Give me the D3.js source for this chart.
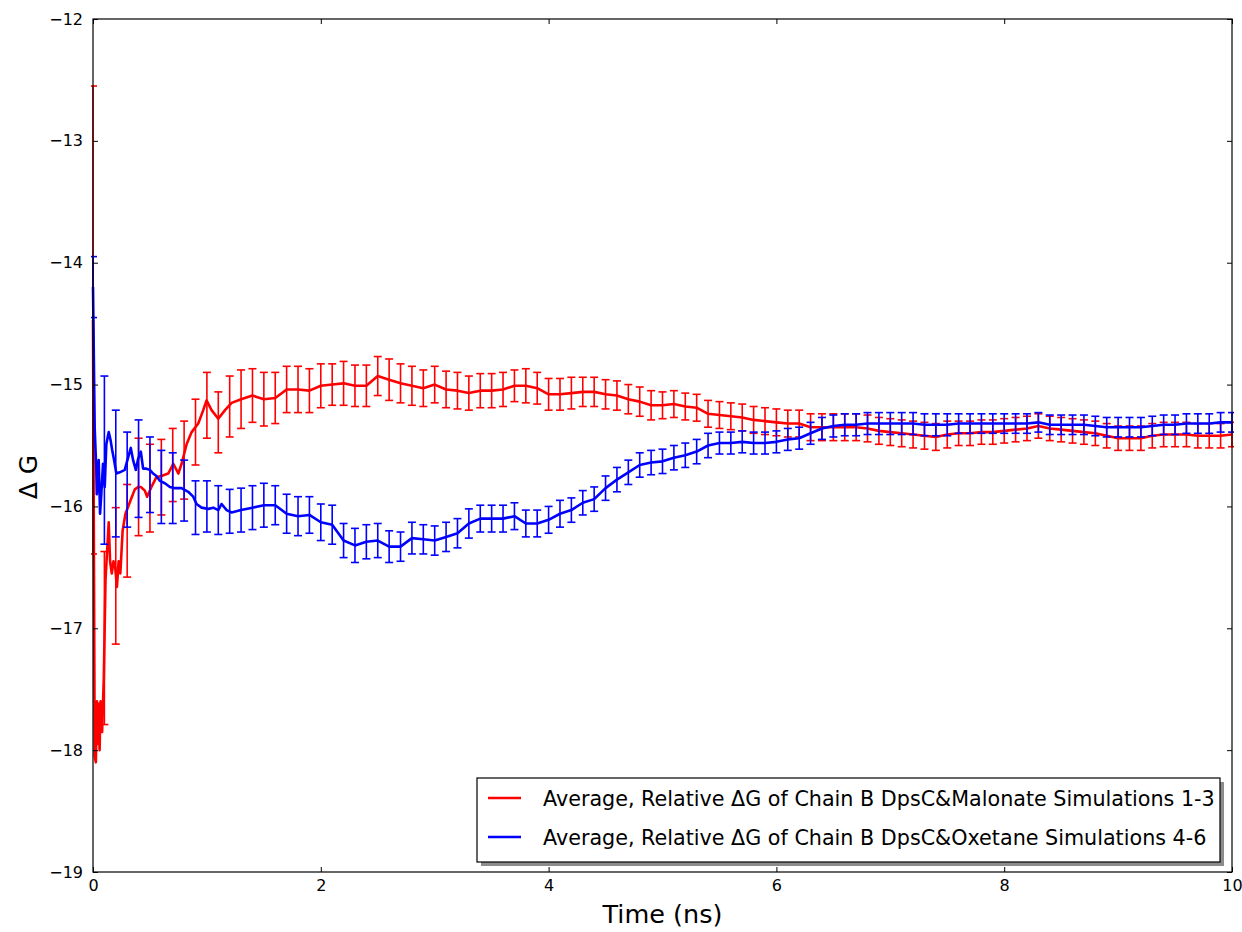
<!DOCTYPE html>
<html>
<head>
<meta charset="utf-8">
<script src="https://cdn.jsdelivr.net/npm/d3@7"></script>
<style>
    body { margin: 0; background: #fff; }
    svg { font-family: "DejaVu Sans", sans-serif; }
    .tick text { font-size: 16px; fill: #000; }
    .tick line { stroke: #000; }
</style>
</head>
<body>
<svg id="chart" width="1242" height="932"></svg>
<script>
// time grid (ns) of the averaged curves, one sample every 0.1 ns
const timeGrid = d3.range(0, 101).map(i => i / 10);

// Chain B DpsC & Malonate, simulations 1-3
const redMean = [
    -14.47, -17.08, -16.57, -16.20, -15.84, -15.85, -15.76, -15.66, -15.62, -15.39,
    -15.17, -15.31, -15.18, -15.12, -15.09, -15.12, -15.11, -15.04, -15.04, -15.05,
    -15.01, -15.00, -14.99, -15.01, -15.01, -14.93, -14.96, -14.99, -15.01, -15.03,
    -15.00, -15.04, -15.05, -15.07, -15.05, -15.05, -15.04, -15.01, -15.01, -15.03,
    -15.08, -15.08, -15.07, -15.06, -15.06, -15.08, -15.09, -15.12, -15.14, -15.17,
    -15.17, -15.16, -15.18, -15.19, -15.24, -15.25, -15.26, -15.27, -15.29, -15.30,
    -15.31, -15.32, -15.32, -15.35, -15.35, -15.35, -15.35, -15.35, -15.36, -15.38,
    -15.39, -15.40, -15.41, -15.42, -15.43, -15.41, -15.40, -15.40, -15.39, -15.39,
    -15.38, -15.37, -15.36, -15.34, -15.36, -15.37, -15.38, -15.39, -15.40, -15.42,
    -15.44, -15.44, -15.44, -15.42, -15.41, -15.41, -15.41, -15.42, -15.42, -15.42,
    -15.41
];
const redErr = [
    1.92, 0.71, 0.56, 0.38, 0.40, 0.36, 0.31, 0.30, 0.32, 0.27,
    0.27, 0.25, 0.25, 0.24, 0.22, 0.22, 0.21, 0.19, 0.19, 0.18,
    0.18, 0.17, 0.18, 0.17, 0.17, 0.16, 0.17, 0.16, 0.16, 0.15,
    0.15, 0.15, 0.15, 0.14, 0.14, 0.14, 0.14, 0.13, 0.14, 0.13,
    0.13, 0.13, 0.13, 0.12, 0.12, 0.12, 0.12, 0.12, 0.12, 0.12,
    0.11, 0.11, 0.11, 0.11, 0.11, 0.11, 0.11, 0.11, 0.11, 0.11,
    0.11, 0.11, 0.11, 0.11, 0.11, 0.11, 0.11, 0.11, 0.11, 0.11,
    0.11, 0.11, 0.11, 0.11, 0.11, 0.11, 0.10, 0.10, 0.10, 0.10,
    0.10, 0.10, 0.10, 0.10, 0.10, 0.10, 0.10, 0.10, 0.10, 0.10,
    0.10, 0.10, 0.10, 0.10, 0.10, 0.10, 0.10, 0.10, 0.10, 0.10,
    0.10
];

// Chain B DpsC & Oxetane, simulations 4-6
const blueMean = [
    -14.20, -15.62, -15.73, -15.78, -15.69, -15.74, -15.84, -15.85, -15.87, -16.01,
    -16.00, -16.03, -16.04, -16.03, -16.01, -15.99, -15.99, -16.06, -16.08, -16.07,
    -16.13, -16.15, -16.28, -16.32, -16.29, -16.28, -16.33, -16.33, -16.26, -16.27,
    -16.28, -16.25, -16.22, -16.14, -16.10, -16.10, -16.10, -16.08, -16.14, -16.14,
    -16.11, -16.06, -16.03, -15.97, -15.94, -15.85, -15.78, -15.72, -15.66, -15.64,
    -15.63, -15.60, -15.58, -15.55, -15.50, -15.48, -15.48, -15.47, -15.48, -15.48,
    -15.47, -15.45, -15.44, -15.40, -15.36, -15.34, -15.33, -15.33, -15.32, -15.32,
    -15.32, -15.32, -15.32, -15.33, -15.33, -15.33, -15.32, -15.32, -15.32, -15.32,
    -15.32, -15.32, -15.32, -15.31, -15.33, -15.33, -15.33, -15.33, -15.34, -15.35,
    -15.35, -15.35, -15.35, -15.34, -15.33, -15.33, -15.32, -15.32, -15.32, -15.31,
    -15.31
];
const blueErr = [
    0.25, 0.69, 0.52, 0.39, 0.40, 0.31, 0.30, 0.29, 0.25, 0.22,
    0.21, 0.20, 0.18, 0.18, 0.18, 0.18, 0.16, 0.16, 0.16, 0.15,
    0.15, 0.16, 0.14, 0.14, 0.14, 0.14, 0.13, 0.12, 0.13, 0.12,
    0.12, 0.12, 0.12, 0.12, 0.11, 0.11, 0.11, 0.11, 0.11, 0.11,
    0.11, 0.11, 0.10, 0.10, 0.10, 0.10, 0.10, 0.10, 0.10, 0.10,
    0.10, 0.10, 0.10, 0.10, 0.10, 0.09, 0.09, 0.09, 0.09, 0.09,
    0.09, 0.09, 0.09, 0.09, 0.09, 0.09, 0.09, 0.09, 0.09, 0.09,
    0.09, 0.09, 0.09, 0.09, 0.09, 0.09, 0.08, 0.08, 0.08, 0.08,
    0.08, 0.08, 0.08, 0.08, 0.08, 0.08, 0.08, 0.08, 0.08, 0.08,
    0.08, 0.08, 0.08, 0.08, 0.08, 0.08, 0.08, 0.08, 0.08, 0.08,
    0.08
];

// the first ~1.2 ns are noisy, so the curves there are read at finer steps
const redEarlyT = [0, 0.015, 0.025, 0.035, 0.042, 0.050, 0.058, 0.066, 0.080, 0.095,
    0.110, 0.138, 0.150, 0.165, 0.180, 0.195, 0.210, 0.225, 0.240, 0.260,
    0.285, 0.330, 0.367, 0.396, 0.420, 0.455, 0.475, 0.513, 0.557, 0.601,
    0.660, 0.705, 0.749, 0.778, 0.822, 0.866, 0.924, 0.968, 0.997, 1.041,
    1.100, 1.159, 1.217];
const redEarlyV = [-14.47, -18.05, -18.10, -17.60, -17.95, -17.62, -18.00, -17.60, -17.85, -17.40,
    -16.60, -16.13, -16.45, -16.55, -16.45, -16.50, -16.66, -16.45, -16.55, -16.20,
    -16.06, -15.95, -15.86, -15.84, -15.84, -15.87, -15.92, -15.84, -15.76, -15.75,
    -15.73, -15.65, -15.73, -15.65, -15.49, -15.39, -15.32, -15.21, -15.13, -15.21,
    -15.28, -15.21, -15.15];
const blueEarlyT = [0, 0.015, 0.029, 0.033, 0.050, 0.062, 0.073, 0.088, 0.103, 0.117,
    0.138, 0.155, 0.167, 0.185, 0.205, 0.235, 0.279, 0.308, 0.332, 0.352,
    0.376, 0.396, 0.420, 0.440, 0.469, 0.499, 0.528, 0.557, 0.587, 0.631,
    0.675, 0.719, 0.777, 0.836, 0.880, 0.909, 0.953, 1.012, 1.056, 1.100,
    1.129, 1.173, 1.217];
const blueEarlyV = [-14.20, -15.36, -15.70, -15.90, -15.62, -16.06, -15.90, -15.65, -15.84, -15.49,
    -15.39, -15.46, -15.53, -15.62, -15.73, -15.72, -15.70, -15.60, -15.52, -15.62,
    -15.70, -15.61, -15.55, -15.69, -15.69, -15.70, -15.73, -15.75, -15.79, -15.81,
    -15.84, -15.85, -15.85, -15.88, -15.92, -15.98, -16.01, -16.02, -16.01, -16.03,
    -15.98, -16.03, -16.05];

const xTicks = [0, 2, 4, 6, 8, 10];
const yTicks = [-19, -18, -17, -16, -15, -14, -13, -12];

const seriesNames = [
    "Average, Relative \u0394G of Chain B DpsC&Malonate Simulations 1-3",
    "Average, Relative \u0394G of Chain B DpsC&Oxetane Simulations 4-6"
];
const seriesColors = ["#ff0000", "#0000ff"];

// ---------------------------------------------------------------

const margin = {top: 19, right: 10, bottom: 60, left: 93};
const plotW = 1232 - margin.left;
const plotH = 872 - margin.top;

const svg = d3.select("#chart");
const g = svg.append("g").attr("transform", `translate(${margin.left},${margin.top})`);

const x = d3.scaleLinear().domain([0, 10]).range([0, plotW]);
const y = d3.scaleLinear().domain([-19, -12]).range([plotH, 0]);

g.append("clipPath").attr("id", "plotClip")
    .append("rect").attr("x", -2).attr("y", -2).attr("width", plotW + 4).attr("height", plotH + 4);

// build each series: fine early part + 0.1 ns grid after it
function buildSeries(earlyT, earlyV, mean, err) {
    let pts = earlyT.map((t, i) => ({t: t, v: earlyV[i]}));
    let last = earlyT[earlyT.length - 1];
    timeGrid.forEach((t, i) => {
        if (t > last + 1e-6) pts.push({t: t, v: mean[i]});
    });
    let bars = timeGrid.map((t, i) => ({t: t, v: mean[i], e: err[i]}));
    return {pts, bars};
}

const series = [
    buildSeries(redEarlyT, redEarlyV, redMean, redErr),
    buildSeries(blueEarlyT, blueEarlyV, blueMean, blueErr)
];

const line = d3.line()
    .x(d => x(d.t))
    .y(d => y(d.v));

const capHalf = 4;
const plotLayer = g.append("g").attr("clip-path", "url(#plotClip)");

series.forEach((s, k) => {
    let col = seriesColors[k];
    let layer = plotLayer.append("g");

    layer.append("path")
        .datum(s.pts)
        .attr("fill", "none")
        .attr("stroke", col)
        .attr("stroke-width", 2.6)
        .attr("stroke-linejoin", "round")
        .attr("d", line);

    let bar = layer.selectAll("g.bar")
        .data(s.bars)
        .join("g")
        .attr("class", "bar")
        .attr("stroke", col)
        .attr("stroke-width", 1.6);

    bar.append("line")
        .attr("x1", d => x(d.t)).attr("x2", d => x(d.t))
        .attr("y1", d => y(d.v + d.e)).attr("y2", d => y(d.v - d.e));
    bar.append("line")
        .attr("x1", d => x(d.t) - capHalf).attr("x2", d => x(d.t) + capHalf)
        .attr("y1", d => y(d.v + d.e)).attr("y2", d => y(d.v + d.e));
    bar.append("line")
        .attr("x1", d => x(d.t) - capHalf).attr("x2", d => x(d.t) + capHalf)
        .attr("y1", d => y(d.v - d.e)).attr("y2", d => y(d.v - d.e));
});

// axes, ticks pointing inwards on all four sides
g.append("g")
    .attr("transform", `translate(0,${plotH})`)
    .call(d3.axisBottom(x).tickValues(xTicks).tickSize(-5).tickPadding(8).tickFormat(d3.format("d")))
    .call(a => a.select(".domain").remove());
g.append("g")
    .call(d3.axisLeft(y).tickValues(yTicks).tickSize(-5).tickPadding(10).tickFormat(d3.format("d")))
    .call(a => a.select(".domain").remove());
g.append("g")
    .call(d3.axisTop(x).tickValues(xTicks).tickSize(-5).tickFormat(""))
    .call(a => a.select(".domain").remove());
g.append("g")
    .attr("transform", `translate(${plotW},0)`)
    .call(d3.axisRight(y).tickValues(yTicks).tickSize(-5).tickFormat(""))
    .call(a => a.select(".domain").remove());
g.selectAll(".tick text").attr("font-family", "DejaVu Sans");

g.append("rect")
    .attr("width", plotW).attr("height", plotH)
    .attr("fill", "none").attr("stroke", "#000").attr("stroke-width", 1.2);

// axis titles
svg.append("text")
    .attr("x", margin.left + plotW / 2)
    .attr("y", 923)
    .attr("text-anchor", "middle")
    .attr("font-size", 25.5)
    .text("Time (ns)");

svg.append("text")
    .attr("transform", "translate(37,477) rotate(-90)")
    .attr("text-anchor", "middle")
    .attr("font-size", 25)
    .text("\u0394 G");

// legend with drop shadow
const legend = svg.append("g").attr("transform", "translate(477,778)");
const legW = 743, legH = 84;
legend.append("rect")
    .attr("x", 4).attr("y", 4).attr("width", legW).attr("height", legH)
    .attr("fill", "#8c8c8c");
legend.append("rect")
    .attr("width", legW).attr("height", legH)
    .attr("fill", "#fff").attr("stroke", "#000").attr("stroke-width", 1.2);

seriesNames.forEach((name, i) => {
    let ly = 20 + i * 39;
    legend.append("line")
        .attr("x1", 11).attr("x2", 44)
        .attr("y1", ly).attr("y2", ly)
        .attr("stroke", seriesColors[i]).attr("stroke-width", 2.6);
    legend.append("text")
        .attr("x", 66).attr("y", ly + 7.5)
        .attr("font-size", 20.7)
        .text(name);
});
</script>
</body>
</html>
